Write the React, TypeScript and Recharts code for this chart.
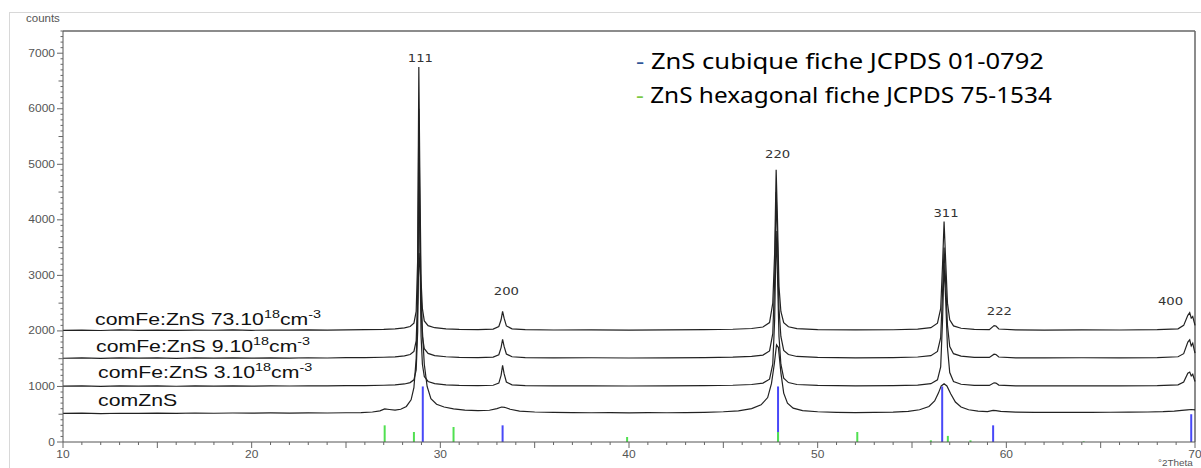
import React from "react";
import { ComposedChart, Line, XAxis, YAxis, Scatter, ReferenceLine } from "recharts";

// 2theta / counts
const comZnS = [
  [10, 515], [11, 520], [12, 512], [13, 518], [14, 515], [15, 520], [16, 517], [17, 522], [18, 518], [19, 522],
  [20, 519], [21, 523], [22, 520], [23, 524], [24, 522], [25, 527], [25.8, 530], [26.4, 540], [26.8, 560],
  [27.05, 595], [27.3, 585], [27.6, 575], [27.9, 590], [28.2, 640], [28.45, 760], [28.6, 980], [28.72, 1500],
  [28.8, 2400], [28.87, 3400], [28.95, 3000], [29.05, 2000], [29.15, 1400], [29.3, 1000], [29.5, 780],
  [29.8, 680], [30.2, 630], [30.7, 595], [31.3, 575], [32, 565], [32.6, 572], [33.0, 600], [33.25, 630],
  [33.4, 625], [33.7, 590], [34.2, 555], [35, 540], [36, 533], [37, 530], [38, 527], [39, 529], [40, 526],
  [41, 528], [42, 527], [43, 530], [44, 535], [45, 545], [45.8, 562], [46.5, 600], [47.0, 670], [47.35, 800],
  [47.55, 1050], [47.7, 1400], [47.82, 1750], [47.92, 1700], [48.05, 1250], [48.2, 880], [48.4, 700],
  [48.7, 610], [49.2, 565], [50, 545], [51, 535], [52, 530], [53, 532], [54, 538], [54.8, 552], [55.4, 580],
  [55.9, 640], [56.2, 740], [56.4, 880], [56.55, 1010], [56.7, 1050], [56.85, 1010], [57.05, 870], [57.3, 720],
  [57.6, 630], [58, 580], [58.5, 555], [59, 548], [59.3, 570], [59.45, 566], [59.7, 550], [60.5, 538],
  [61.5, 533], [62.5, 532], [63.5, 534], [64.5, 533], [65.5, 536], [66.5, 538], [67.5, 540], [68.3, 546],
  [68.9, 556], [69.3, 570], [69.6, 580], [69.8, 585], [70, 578],
];

const fe3 = [
  [10, 1005], [11, 1010], [12, 1003], [13, 1012], [14, 1006], [15, 1010], [16, 1004], [17, 1011], [18, 1007],
  [19, 1012], [20, 1006], [21, 1010], [22, 1008], [23, 1013], [24, 1009], [25, 1014], [26, 1016], [27, 1022],
  [27.6, 1030], [28.1, 1045], [28.4, 1070], [28.6, 1120], [28.72, 1300], [28.8, 2000], [28.86, 5200],
  [28.92, 3400], [28.98, 1900], [29.05, 1400], [29.15, 1180], [29.35, 1090], [29.7, 1050], [30.3, 1030],
  [31, 1020], [32, 1015], [32.8, 1022], [33.1, 1060], [33.22, 1200], [33.3, 1380], [33.38, 1230], [33.5, 1080],
  [33.8, 1030], [34.5, 1015], [36, 1010], [38, 1012], [40, 1008], [42, 1012], [44, 1015], [45.5, 1022],
  [46.5, 1035], [47.1, 1060], [47.45, 1130], [47.62, 1400], [47.72, 2200], [47.8, 3800], [47.87, 3000],
  [47.95, 1900], [48.05, 1400], [48.2, 1150], [48.45, 1070], [48.9, 1035], [50, 1018], [52, 1012], [54, 1015],
  [55.3, 1025], [56.0, 1050], [56.35, 1120], [56.52, 1350], [56.62, 2200], [56.7, 3200], [56.78, 2600],
  [56.88, 1700], [57.0, 1250], [57.2, 1090], [57.6, 1040], [58.3, 1020], [59.1, 1018], [59.35, 1065],
  [59.45, 1060], [59.6, 1025], [60.5, 1012], [62, 1010], [64, 1012], [66, 1011], [68, 1015], [69.1, 1030],
  [69.4, 1080], [69.62, 1240], [69.72, 1260], [69.8, 1190], [69.88, 1220], [69.97, 1120], [70, 1090],
];

const fe9 = [
  [10, 1508], [11, 1514], [12, 1506], [13, 1515], [14, 1509], [15, 1513], [16, 1507], [17, 1514], [18, 1510],
  [19, 1516], [20, 1509], [21, 1514], [22, 1511], [23, 1517], [24, 1512], [25, 1518], [26, 1520], [27, 1526],
  [27.6, 1534], [28.1, 1550], [28.4, 1575], [28.6, 1630], [28.72, 1820], [28.8, 2600], [28.86, 6000],
  [28.92, 4000], [28.98, 2400], [29.05, 1900], [29.15, 1680], [29.35, 1595], [29.7, 1555], [30.3, 1535],
  [31, 1525], [32, 1520], [32.8, 1528], [33.1, 1570], [33.22, 1700], [33.3, 1850], [33.38, 1720], [33.5, 1585],
  [33.8, 1535], [34.5, 1520], [36, 1515], [38, 1517], [40, 1512], [42, 1516], [44, 1520], [45.5, 1527],
  [46.5, 1540], [47.1, 1565], [47.45, 1640], [47.62, 1950], [47.72, 2900], [47.8, 4500], [47.87, 3600],
  [47.95, 2400], [48.05, 1900], [48.2, 1650], [48.45, 1575], [48.9, 1540], [50, 1522], [52, 1516], [54, 1519],
  [55.3, 1530], [56.0, 1555], [56.35, 1630], [56.52, 1880], [56.62, 2700], [56.7, 3500], [56.78, 2900],
  [56.88, 2100], [57.0, 1720], [57.2, 1590], [57.6, 1545], [58.3, 1525], [59.1, 1522], [59.35, 1580],
  [59.45, 1575], [59.6, 1530], [60.5, 1516], [62, 1514], [64, 1517], [66, 1515], [68, 1520], [69.1, 1535],
  [69.4, 1590], [69.62, 1800], [69.72, 1840], [69.8, 1730], [69.88, 1780], [69.97, 1640], [70, 1600],
];

const fe73 = [
  [10, 2010], [11, 2016], [12, 2008], [13, 2017], [14, 2011], [15, 2015], [16, 2009], [17, 2016], [18, 2012],
  [19, 2018], [20, 2011], [21, 2016], [22, 2013], [23, 2019], [24, 2014], [25, 2020], [26, 2023], [27, 2029],
  [27.6, 2038], [28.1, 2055], [28.4, 2080], [28.6, 2140], [28.72, 2350], [28.8, 3300], [28.86, 6750],
  [28.92, 4600], [28.98, 2900], [29.05, 2400], [29.15, 2180], [29.35, 2095], [29.7, 2058], [30.3, 2038],
  [31, 2028], [32, 2022], [32.8, 2032], [33.1, 2080], [33.22, 2200], [33.3, 2350], [33.38, 2230], [33.5, 2090],
  [33.8, 2038], [34.5, 2022], [36, 2017], [38, 2019], [40, 2014], [42, 2018], [44, 2022], [45.5, 2030],
  [46.5, 2044], [47.1, 2070], [47.45, 2150], [47.62, 2500], [47.72, 3400], [47.8, 4900], [47.87, 4000],
  [47.95, 2800], [48.05, 2350], [48.2, 2150], [48.45, 2075], [48.9, 2042], [50, 2024], [52, 2018], [54, 2021],
  [55.3, 2032], [56.0, 2058], [56.35, 2140], [56.52, 2400], [56.62, 3200], [56.7, 3970], [56.78, 3300],
  [56.88, 2500], [57.0, 2200], [57.2, 2090], [57.6, 2048], [58.3, 2027], [59.1, 2024], [59.35, 2095],
  [59.45, 2088], [59.6, 2035], [60.5, 2018], [62, 2016], [64, 2019], [66, 2017], [68, 2022], [69.1, 2038],
  [69.4, 2100], [69.62, 2280], [69.72, 2330], [69.8, 2230], [69.88, 2260], [69.97, 2140], [70, 2100],
];

// reference patterns (position, height)
const cubicRefs = [[29.07, 1000], [33.3, 300], [47.9, 1000], [56.6, 1000], [59.3, 300], [69.8, 500]];
const hexRefs = [
  [27.05, 300], [28.6, 180], [30.7, 270], [39.9, 90], [47.9, 180], [52.1, 180], [56.0, 30], [56.9, 110],
  [58.1, 30], [64.1, 12],
];

const peakLabels = [
  { x: 28.94, y: 6850, text: "111" },
  { x: 33.5, y: 2650, text: "200" },
  { x: 47.88, y: 5110, text: "220" },
  { x: 56.8, y: 4050, text: "311" },
  { x: 59.63, y: 2290, text: "222" },
  { x: 68.7, y: 2470, text: "400" },
];

const curveLabels = [
  { x: 11.7, y: 2108, text: "comFe:ZnS 73.10", exp: "18", unit: "cm", unitExp: "-3" },
  { x: 11.75, y: 1622, text: "comFe:ZnS 9.10", exp: "18", unit: "cm", unitExp: "-3" },
  { x: 11.86, y: 1153, text: "comFe:ZnS 3.10", exp: "18", unit: "cm", unitExp: "-3" },
  { x: 11.86, y: 649, text: "comZnS" },
];

const X_TICKS = Array.from({ length: 61 }, (_, i) => 10 + i);
const Y_TICKS = Array.from({ length: 75 }, (_, i) => i * 100);

const toPts = (rows: number[][]) => rows.map(([x, y]) => ({ x, y }));
const series = [comZnS, fe3, fe9, fe73].map(toPts);

const AXIS_FONT = "Liberation Sans, Arial, sans-serif";

function YTick({ x, y, payload }: any) {
  const v = payload.value;
  const major = v % 1000 === 0;
  const len = major ? 6 : v % 500 === 0 ? 4.5 : 2.5;
  return (
    <g>
      <line x1={x - len} x2={x} y1={y} y2={y} stroke="#666" />
      {major && (
        <text
          transform={`translate(${x - 8},${y + 3.5}) scale(1.2,1)`}
          textAnchor="end"
          fontSize={10}
          fontFamily={AXIS_FONT}
          fill="#555"
        >
          {v}
        </text>
      )}
    </g>
  );
}

function XTick({ x, y, payload }: any) {
  const v = payload.value;
  const len = v % 5 === 0 ? 6 : 3;
  return (
    <g>
      <line x1={x} x2={x} y1={y} y2={y + len} stroke="#666" />
      {v % 10 === 0 && (
        <text
          transform={`translate(${x},${y + 16}) scale(1.2,1)`}
          textAnchor="middle"
          fontSize={10}
          fontFamily={AXIS_FONT}
          fill="#555"
        >
          {v}
        </text>
      )}
    </g>
  );
}

function PeakLabel({ cx, cy, payload }: any) {
  return (
    <text
      transform={`translate(${cx},${cy}) scale(1.2,1)`}
      textAnchor="middle"
      fontSize={11}
      fontFamily="DejaVu Sans, sans-serif"
      fill="#333"
    >
      {payload.text}
    </text>
  );
}

function CurveLabel({ cx, cy, payload }: any) {
  return (
    <text transform={`translate(${cx},${cy}) scale(1.25,1)`} fontSize={17} fontFamily={AXIS_FONT} fill="#111">
      {payload.text}
      {payload.exp && (
        <>
          <tspan fontSize={11.5} dy={-6.5}>{payload.exp}</tspan>
          <tspan fontSize={17} dy={6.5}>{payload.unit}</tspan>
          <tspan fontSize={11.5} dy={-6.5}>{payload.unitExp}</tspan>
        </>
      )}
    </text>
  );
}

export default function App() {
  return (
    <div style={{ position: "absolute", left: 0, top: 0, width: 1201, height: 468, background: "#fff", overflow: "hidden" }}>
      <div style={{ position: "absolute", left: 9, top: 12, width: 1200, height: 470, border: "1px solid #d8d8d8" }} />
      <div style={{ position: "absolute", left: 0, top: 0 }}>
        <ComposedChart width={1201} height={468} margin={{ top: 31, right: 6, bottom: 0, left: 0 }}>
          <XAxis
            type="number"
            dataKey="x"
            domain={[10, 70]}
            ticks={X_TICKS}
            interval={0}
            tick={(p: any) => <XTick {...p} />}
            tickLine={false}
            tickSize={0}
            tickMargin={0}
            height={26}
            axisLine={{ stroke: "#555" }}
          />
          <YAxis
            type="number"
            domain={[0, 7400]}
            ticks={Y_TICKS}
            interval={0}
            tick={(p: any) => <YTick {...p} />}
            tickLine={false}
            tickSize={0}
            tickMargin={0}
            width={63}
            axisLine={{ stroke: "#555" }}
          />
          <ReferenceLine y={7400} stroke="#666" strokeWidth={1.5} />
          <ReferenceLine x={70} stroke="#666" strokeWidth={1.5} />
          {series.map((d, i) => (
            <Line
              key={i}
              data={d}
              dataKey="y"
              type="linear"
              dot={false}
              stroke="#222"
              strokeWidth={1.2}
              isAnimationActive={false}
            />
          ))}
          {cubicRefs.map(([x, h], i) => (
            <ReferenceLine key={"c" + i} segment={[{ x, y: 0 }, { x, y: h }]} stroke="#4848f8" strokeWidth={2} />
          ))}
          {hexRefs.map(([x, h], i) => (
            <ReferenceLine key={"h" + i} segment={[{ x, y: 0 }, { x, y: h }]} stroke="#50e050" strokeWidth={2} />
          ))}
          <Scatter data={peakLabels} dataKey="y" shape={(p: any) => <PeakLabel {...p} />} isAnimationActive={false} />
          <Scatter data={curveLabels} dataKey="y" shape={(p: any) => <CurveLabel {...p} />} isAnimationActive={false} />
        </ComposedChart>
      </div>
      <svg width={1201} height={468} style={{ position: "absolute", left: 0, top: 0, pointerEvents: "none" }}>
        <text transform="translate(26,22) scale(1.15,1)" fontSize={10} fontFamily={AXIS_FONT} fill="#555">
          counts
        </text>
        <text transform="translate(1158,466) scale(1.1,1)" fontSize={9} fontFamily={AXIS_FONT} fill="#555">
          °2Theta
        </text>
        <text transform="translate(636,69) scale(1.22,1)" fontSize={21} fontFamily="Noto Sans, sans-serif" fill="#000">
          <tspan fill="#2f5597">-</tspan> ZnS cubique fiche JCPDS 01-0792
        </text>
        <text transform="translate(636,103) scale(1.16,1)" fontSize={21} fontFamily="Noto Sans, sans-serif" fill="#000">
          <tspan fill="#7ac943">-</tspan> ZnS hexagonal fiche JCPDS 75-1534
        </text>
      </svg>
    </div>
  );
}
